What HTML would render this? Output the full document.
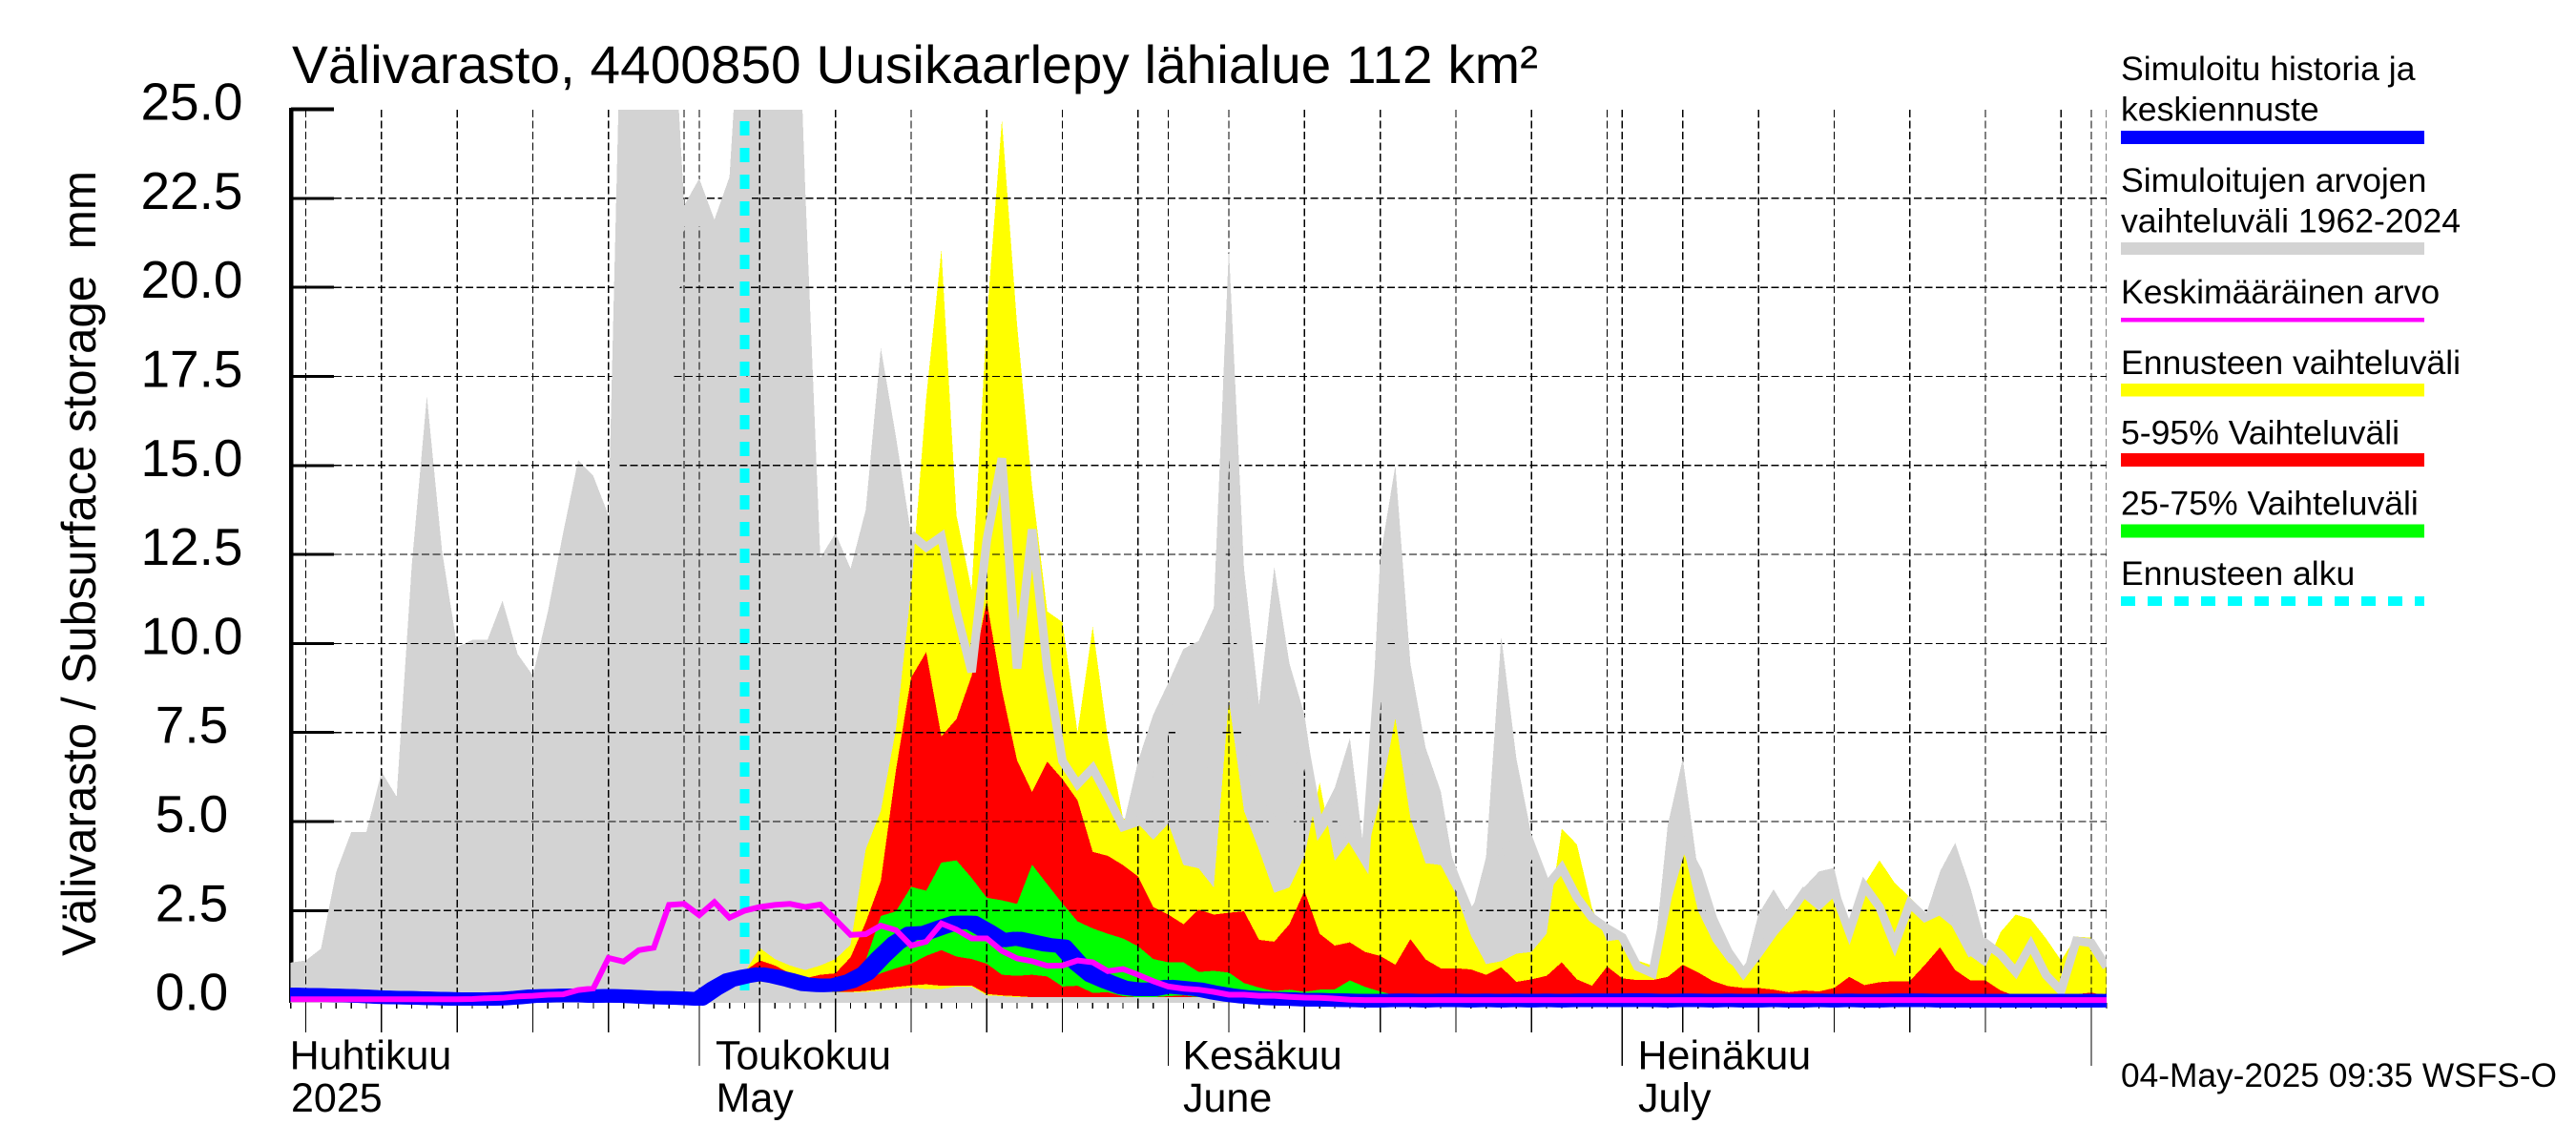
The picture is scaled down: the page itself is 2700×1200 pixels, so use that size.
<!DOCTYPE html>
<html lang="fi">
<head>
<meta charset="utf-8">
<title>Välivarasto 4400850 Uusikaarlepy lähialue</title>
<style>
html,body{margin:0;padding:0;background:#fff;}
svg{display:block;}
text{font-family:"Liberation Sans",sans-serif;fill:#000;}
</style>
</head>
<body>
<svg id="chart" xmlns="http://www.w3.org/2000/svg" width="2700" height="1200" viewBox="0 0 2700 1200">
  <defs>
    <clipPath id="plot-clip"><rect x="304" y="115" width="1904" height="945"></rect></clipPath>
  </defs>
  <rect x="0" y="0" width="2700" height="1200" fill="#fff"></rect>
  <text x="306" y="87" font-size="56" textLength="1306" lengthAdjust="spacingAndGlyphs">Välivarasto, 4400850 Uusikaarlepy lähialue 112 km²</text>
  <text transform="translate(100,1002) rotate(-90)" font-size="50" textLength="823" lengthAdjust="spacingAndGlyphs" xml:space="preserve">Välivarasto / Subsurface storage  mm</text>

  <g id="y-ticks"></g>
  <rect x="303" y="113" width="4.5" height="938" fill="#000"></rect>
  <g id="y-labels"></g>
  <g id="x-ticks"></g>

  <g clip-path="url(#plot-clip)">
    <g id="bands"></g>
    <g id="grid"></g>
    <g id="lines"></g>
  </g>

  <g font-size="43">
    <text x="303.6" y="1120.5">Huhtikuu</text>
    <text x="305" y="1165">2025</text>
    <text x="750" y="1120.5">Toukokuu</text>
    <text x="750.5" y="1165">May</text>
    <text x="1239.5" y="1120.5">Kesäkuu</text>
    <text x="1240" y="1165">June</text>
    <text x="1716.5" y="1120.5">Heinäkuu</text>
    <text x="1717" y="1165">July</text>
  </g>

  <g font-size="35.6">
    <text x="2223" y="84">Simuloitu historia ja</text>
    <text x="2223" y="126.5">keskiennuste</text>
    <rect x="2223" y="137" width="318" height="14" fill="#0000ff"></rect>
    <text x="2223" y="201">Simuloitujen arvojen</text>
    <text x="2223" y="243.5">vaihteluväli 1962-2024</text>
    <rect x="2223" y="254" width="318" height="13" fill="#d3d3d3"></rect>
    <text x="2223" y="318">Keskimääräinen arvo</text>
    <rect x="2223" y="333" width="318" height="4.5" fill="#ff00ff"></rect>
    <text x="2223" y="392">Ennusteen vaihteluväli</text>
    <rect x="2223" y="402" width="318" height="13.5" fill="#ffff00"></rect>
    <text x="2223" y="465.5">5-95% Vaihteluväli</text>
    <rect x="2223" y="475" width="318" height="14" fill="#ff0000"></rect>
    <text x="2223" y="539.5">25-75% Vaihteluväli</text>
    <rect x="2223" y="549.5" width="318" height="14" fill="#00ff00"></rect>
    <text x="2223" y="613">Ennusteen alku</text>
    <line x1="2223" y1="630" x2="2541" y2="630" stroke="#00ffff" stroke-width="10" stroke-dasharray="15 13"></line>
  </g>

  <text x="2223" y="1139" font-size="35" textLength="457" lengthAdjust="spacingAndGlyphs">04-May-2025 09:35 WSFS-O</text>
</svg>

<script>
// Day index 0 = 4 April 2025. History arrays hold one value per day, 0..120.
const grayMax = [
1.04,1.1,1.43,3.58,4.7,4.7,6.4,5.7,12.2,16.95,
12.6,9.9,10.1,10.1,11.2,9.7,9.1,10.9,13.1,15.15,
14.7,13.6,31,25.5,30,30,22.3,23.05,21.9,23.1,
30,30,30,35,22.84,12.4,13.1,12.1,13.75,18.3,
15.8,13.06,12.7,13,10.9,9.2,12.9,15.2,9.3,13.2,
9.3,6.7,6.05,6.5,5.7,4.85,6.7,8,8.9,9.85,
10.07,11,21.1,12.1,8.3,12.16,9.44,8,5.1,5.95,
7.34,3.9,12.4,15,9.44,7.08,5.85,3.39,2.36,4,
10.2,6.77,4.62,3.18,3.7,2.87,2.3,2,1.75,0.93,
0.74,4.9,6.77,3.6,2.26,1.35,0.74,2.4,3.1,2.39,
3.15,3.6,3.7,1.9,3.19,2.6,1.54,2.7,2.3,3.6,
4.4,3.15,1.59,1.27,0.78,1.54,0.69,0.25,1.65,1.59,
0.92];
const grayLine = [
1.04,1.1,1.43,3.58,4.7,4.7,6.4,5.7,12.2,16.95,
12.6,9.9,10.1,10.1,11.2,9.7,9.1,10.9,13.1,15.15,
14.7,13.6,15.5,15.5,15.5,15.5,21.7,21.7,21.7,21.7,
15.5,30,30,35,22.84,12.4,13.1,12.1,13.75,18.3,
15.8,13.06,12.7,13,10.9,9.2,12.9,15.2,9.3,13.2,
9.3,6.7,6.05,6.5,5.7,4.85,5,5.5,8.24,7.5,
7,6.5,18.3,8,5.5,5,5,7.13,4.77,5.4,
4.6,3.9,9.75,11,7,5.5,4.5,3.39,2.36,3,
5,3,4.3,3.18,3.7,2.87,2.3,2,1.75,0.93,
0.74,2.9,4.4,3.6,2.26,1.35,0.74,1.3,1.9,2.39,
3,2.65,3.05,1.9,3.19,2.6,1.54,2.7,2.3,2.5,
2.15,1.35,1.59,1.27,0.78,1.54,0.69,0.25,1.65,1.59,
0.92];
const meanValues = [
0.01,0.01,0.01,0.01,0.01,0.01,0.01,0.01,0.01,0.01,
0.01,0.01,0.02,0.04,0.05,0.09,0.11,0.14,0.15,0.27,
0.32,1.17,1.07,1.39,1.46,2.66,2.69,2.37,2.74,2.3,
2.5,2.6,2.66,2.69,2.6,2.67,2.25,1.82,1.84,2.08,
1.95,1.52,1.63,2.14,1.97,1.72,1.72,1.37,1.16,1.08,
0.95,0.96,1.1,1.05,0.8,0.86,0.7,0.52,0.37,0.31,
0.28,0.22,0.14,0.14,0.11,0.11,0.08,0.06,0.05,0.03,
0,-0.01,-0.01,-0.01,-0.01,-0.01,-0.01,-0.01,-0.01,-0.01,
-0.01,-0.01,-0.01,-0.01,-0.01,-0.01,-0.01,-0.01,-0.01,-0.01,
-0.01,-0.01,-0.01,-0.01,-0.01,-0.01,-0.01,-0.01,-0.01,-0.01,
-0.01,-0.01,-0.01,-0.01,-0.01,-0.01,-0.01,-0.01,-0.01,-0.01,
-0.01,-0.01,-0.01,-0.01,-0.01,-0.01,-0.01,-0.01,-0.01,-0.01,
-0.01];
const blueValues = [
0.15,0.14,0.13,0.12,0.11,0.09,0.07,0.06,0.05,0.04,
0.03,0.02,0.02,0.02,0.03,0.06,0.1,0.11,0.12,0.12,
0.1,0.11,0.1,0.08,0.06,0.05,0.04,0.02,0.31,0.55,
0.65,0.72,0.65,0.55,0.43,0.4,0.41,0.52,0.74,1.19,
1.59,1.86,1.88,2.03,2.17,2.17,1.93,1.66,1.72,1.63,
1.54,1.5,1.03,0.68,0.5,0.34,0.29,0.29,0.37,0.33,
0.29,0.2,0.13,0.08,0.05,0.03,0.02,0,0,-0.01,
-0.02,-0.03,-0.03,-0.02,-0.02,-0.03,-0.02,-0.02,-0.03,-0.02,
-0.03,-0.02,-0.03,-0.02,-0.03,-0.02,-0.02,-0.02,-0.02,-0.01,
-0.02,-0.03,-0.02,-0.02,-0.03,-0.02,-0.03,-0.03,-0.02,-0.03,
-0.03,-0.02,-0.03,-0.02,-0.03,-0.03,-0.02,-0.02,-0.02,-0.03,
-0.03,-0.03,-0.03,-0.03,-0.03,-0.03,-0.03,-0.03,-0.03,-0.03,
-0.03];

// Forecast arrays start on the forecast day (index 30) and run to index 120.
const forecastStartDay = 30;
const yellowTop = [
0.77,1.45,1.14,0.96,0.83,0.96,1.14,1.54,4.22,5.3,
7.6,11.5,16.9,21.05,13.6,11.5,19.1,24.7,18.96,14.4,
10.9,10.6,7.5,10.47,7.35,5.1,4.94,4.49,4.94,3.78,
3.69,3.15,8.42,5.3,4.2,3,3.15,4.04,6.1,3.9,
4.46,3.9,5.65,7.9,5.1,3.83,3.78,2.98,1.8,1,
1.08,1.29,1.34,1.85,4.8,4.36,2.57,1.64,1.7,1.1,
0.96,2.6,4.35,2.5,1.63,1.05,0.74,1.18,1.72,2.44,
3,2.6,3,1.94,3.24,3.91,3.28,2.88,2.44,2.44,
2.08,1.23,0.92,1.9,2.39,2.26,1.72,1.1,1.77,1.74,
0.92];
const yellowBottom = [
0.5,0.5,0.5,0.4,0.3,0.25,0.2,0.2,0.22,0.25,
0.3,0.34,0.3,0.3,0.37,0.37,0.12,0.1,0.07,0.07,
0.07,0.07,0.07,0.07,0.07,0.07,0.07,0.07,0.07,0.07,
0.07,0.06,0.06,0.06,0.06,0.06,0.06,0.06,0.06,0.06,
0.05,0.05,0.05,0.05,0.05,0.05,0.05,0.05,0.05,0.05,
0.05,0.05,0.05,0.05,0.05,0.05,0.05,0.05,0.05,0.05,
0.05,0.05,0.05,0.05,0.05,0.05,0.05,0.05,0.05,0.05,
0.05,0.05,0.05,0.05,0.05,0.05,0.05,0.05,0.05,0.05,
0.05,0.05,0.05,0.05,0.05,0.05,0.05,0.05,0.05,0.05,
0.05];
const redTop = [
0.8,1.1,0.96,0.74,0.6,0.7,0.74,1.19,2.17,3.33,
6.45,9.04,9.76,7.39,7.88,9.09,11.19,8.69,6.72,5.83,
6.68,6.19,5.6,4.15,4.04,3.78,3.46,2.6,2.39,2.12,
2.53,2.39,2.44,2.48,1.68,1.63,2.12,3.05,1.85,1.52,
1.61,1.34,1.23,0.98,1.7,1.13,0.88,0.88,0.85,0.7,
0.91,0.5,0.57,0.67,1.05,0.57,0.39,0.93,0.6,0.55,
0.55,0.64,0.98,0.77,0.52,0.38,0.33,0.33,0.28,0.21,
0.26,0.23,0.33,0.64,0.41,0.49,0.52,0.52,0.98,1.47,
0.83,0.54,0.54,0.26,0.1,0.1,0.1,0.1,0.15,0.2,
0.1];
const redBottom = [
0.6,0.55,0.5,0.45,0.35,0.3,0.22,0.22,0.25,0.3,
0.36,0.4,0.43,0.39,0.4,0.4,0.16,0.12,0.1,0.07,
0.07,0.07,0.07,0.07,0.07,0.07,0.07,0.07,0.07,0.07,
0.07,0.06,0.06,0.06,0.06,0.06,0.06,0.06,0.06,0.06,
0.05,0.05,0.05,0.05,0.05,0.05,0.05,0.05,0.05,0.05,
0.05,0.05,0.05,0.05,0.05,0.05,0.05,0.05,0.05,0.05,
0.05,0.05,0.05,0.05,0.05,0.05,0.05,0.05,0.05,0.05,
0.05,0.05,0.05,0.05,0.05,0.05,0.05,0.05,0.05,0.05,
0.05,0.05,0.05,0.05,0.05,0.05,0.05,0.05,0.05,0.05,
0.05];
const greenTop = [
0.7,0.7,0.65,0.5,0.43,0.37,0.41,0.55,1.1,2.35,
2.48,3.17,3.06,3.85,3.91,3.42,2.86,2.79,2.69,3.79,
3.24,2.7,2.2,2,1.85,1.72,1.5,1.14,1.05,1.05,
0.78,0.81,0.76,0.47,0.34,0.24,0.28,0.22,0.28,0.29,
0.54,0.36,0.23,0.12,0.1,0.1,0.12,0.1,0.1,0.08,
0.05,0.05,0.05,0.05,0.05,0.05,0.05,0.05,0.05,0.05,
0.05,0.05,0.05,0.05,0.05,0.05,0.05,0.05,0.05,0.05,
0.05,0.05,0.05,0.05,0.05,0.05,0.05,0.05,0.05,0.05,
0.05,0.05,0.05,0.05,0.05,0.05,0.05,0.05,0.05,0.05,
0.05];
const greenBottom = [
0.7,0.7,0.65,0.5,0.43,0.37,0.41,0.42,0.57,0.74,
0.88,1.01,1.23,1.39,1.21,1.14,1.01,0.7,0.67,0.7,
0.65,0.37,0.39,0.19,0.21,0.1,0.07,0.07,0.1,0.12,
0.07,0.05,0.05,0.05,0.05,0.05,0.05,0.05,0.05,0.05,
0.05,0.05,0.05,0.05,0.05,0.05,0.05,0.05,0.05,0.05,
0.05,0.05,0.05,0.05,0.05,0.05,0.05,0.05,0.05,0.05,
0.05,0.05,0.05,0.05,0.05,0.05,0.05,0.05,0.05,0.05,
0.05,0.05,0.05,0.05,0.05,0.05,0.05,0.05,0.05,0.05,
0.05,0.05,0.05,0.05,0.05,0.05,0.05,0.05,0.05,0.05,
0.05];

const yTickValues = [0,2.5,5,7.5,10,12.5,15,17.5,20,22.5,25];
const yTickLabels = ["0.0","2.5","5.0","7.5","10.0","12.5","15.0","17.5","20.0","22.5","25.0"];
const fiveDayTicks = [1,6,11,16,21,31,36,41,46,51,62,67,72,77,82,92,97,102,107,112];
const thirtiethDays = [26,56,87,117];
const monthStartDays = [27,58,88,119];
const lastDay = 120;
const bottomValue = -0.09;

const SVG_NS = "http://www.w3.org/2000/svg";
function xScale(day){ return 304.7 + 15.86 * day; }
function yScale(value){ return 1047.7 - 37.33 * value; }
function make(tag, parentId, attrs){
  const el = document.createElementNS(SVG_NS, tag);
  for (const key in attrs) { el.setAttribute(key, attrs[key]); }
  document.getElementById(parentId).appendChild(el);
  return el;
}
function linePoints(values, startDay){
  return values.map(function(v, i){ return xScale(startDay + i).toFixed(1) + "," + yScale(v).toFixed(1); });
}
function bandPoints(upper, lower, startDay){
  return linePoints(upper, startDay).concat(linePoints(lower, startDay).reverse()).join(" ");
}
function flatSeries(values, level){
  return values.map(function(){ return level; });
}

// y axis ticks and labels
yTickValues.forEach(function(v, i){
  const tick = make("line", "y-ticks", {x1:305, x2:350, y1:yScale(v), y2:yScale(v), stroke:"#000", "stroke-width":(v === 25 ? 4 : 3), "shape-rendering":"crispEdges"});
  
  
  const label = make("text", "y-labels", {x:201, y:yScale(v) + 11, "font-size":55, "text-anchor":"middle"});
  label.textContent = yTickLabels[i];
  
  
});

// x axis ticks
for (let d = 0; d <= lastDay; d++) {
  const tick = make("line", "x-ticks", {x1:xScale(d), x2:xScale(d), y1:1051, y2:1057, stroke:"#000", "stroke-width":1.3, "shape-rendering":"crispEdges"});
  
  
}
fiveDayTicks.forEach(function(d){
  const tick = make("line", "x-ticks", {x1:xScale(d), x2:xScale(d), y1:1051, y2:1082, stroke:"#000", "stroke-width":1.3, "shape-rendering":"crispEdges"});
  
  
});
monthStartDays.forEach(function(d){
  const tick = make("line", "x-ticks", {x1:xScale(d), x2:xScale(d), y1:1051, y2:1117, stroke:"#000", "stroke-width":1.3, "shape-rendering":"crispEdges"});
  
  
});

// range bands
const grayBand = make("polygon", "bands", {points:bandPoints(grayMax, flatSeries(grayMax, bottomValue), 0), fill:"#d3d3d3", "shape-rendering":"crispEdges"});


const yellowBand = make("polygon", "bands", {points:bandPoints(yellowTop, yellowBottom, forecastStartDay), fill:"#ffff00", "shape-rendering":"crispEdges"});


const redBand = make("polygon", "bands", {points:bandPoints(redTop, redBottom, forecastStartDay), fill:"#ff0000", "shape-rendering":"crispEdges"});


const greenBand = make("polygon", "bands", {points:bandPoints(greenTop, greenBottom, forecastStartDay), fill:"#00ff00", "shape-rendering":"crispEdges"});



// grid
yTickValues.slice(1).forEach(function(v){
  const g = make("line", "grid", {x1:350, x2:xScale(lastDay), y1:yScale(v), y2:yScale(v), stroke:"#000", "stroke-width":1.3, "stroke-dasharray":"8 3.5", "shape-rendering":"crispEdges"});
  
  
});
fiveDayTicks.concat(thirtiethDays, monthStartDays, [lastDay]).forEach(function(d){
  const g = make("line", "grid", {x1:xScale(d), x2:xScale(d), y1:115, y2:1051, stroke:"#000", "stroke-width":1.3, "stroke-dasharray":"8 3.5", "shape-rendering":"crispEdges"});
  
  
});

// upper part of the range sits above the grid
const coverBand = make("polygon", "lines", {points:bandPoints(grayMax, grayLine, 0), fill:"#d3d3d3", "shape-rendering":"crispEdges"});


const rangeLine = make("polyline", "lines", {points:linePoints(grayLine.slice(41), 41).join(" "), fill:"none", stroke:"#d3d3d3", "stroke-width":9, "stroke-linejoin":"miter"});



// forecast start marker
const startLine = make("line", "lines", {x1:xScale(forecastStartDay), x2:xScale(forecastStartDay), y1:127, y2:1044, stroke:"#00ffff", "stroke-width":10, "stroke-dasharray":"15 13", "shape-rendering":"crispEdges"});



// simulated history + median forecast (square-pen look: three offset passes), and mean
[-4, 0, 4].forEach(function(offset){
  const blueLine = make("polyline", "lines", {points:linePoints(blueValues, 0).join(" "), fill:"none", stroke:"#0000ff", "stroke-width":14, "stroke-linejoin":"round", transform:"translate(" + offset + ",0)"});
  
  
});
const meanLine = make("polyline", "lines", {points:linePoints(meanValues, 0).join(" "), fill:"none", stroke:"#ff00ff", "stroke-width":6, "stroke-linejoin":"miter"});


</script>
</body>
</html>
